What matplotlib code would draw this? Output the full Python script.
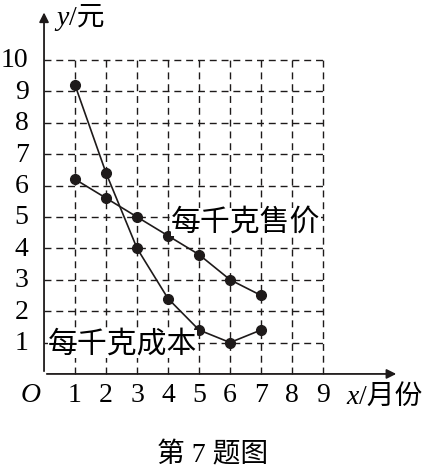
import numpy as np
import matplotlib.pyplot as plt

# months and prices (yuan per kg)
months = [1, 2, 3, 4, 5, 6, 7]
price = [6.2, 5.6, 5.0, 4.4, 3.8, 3.0, 2.5]   # 每千克售价
cost = [9.2, 6.4, 4.0, 2.4, 1.4, 1.0, 1.4]    # 每千克成本
xticks = [1, 2, 3, 4, 5, 6, 7, 8, 9]
yticks = [1, 2, 3, 4, 5, 6, 7, 8, 9, 10]

serif = "Liberation Serif"
cjk = ["Liberation Serif", "Noto Sans CJK SC"]
ink = "#1e1a1a"

fig = plt.figure(figsize=(4.26, 4.77), dpi=100)
ax = fig.add_axes([0, 0, 1, 1])
ax.set_xlim(-1.42, 12.32)
ax.set_ylim(-3.25, 11.94)
ax.axis("off")

# dashed grid
for x in xticks:
    ax.plot([x, x], [0, 10], color=ink, lw=1.0, ls=(0, (5, 3.5)))
for y in yticks:
    ax.plot([0, 9], [y, y], color=ink, lw=1.0, ls=(0, (5, 3.5)))

# axes with arrows
ax.annotate("", xy=(11.45, 0), xytext=(0, 0),
            arrowprops=dict(arrowstyle="-|>", color=ink, lw=1.3, mutation_scale=14))
ax.annotate("", xy=(0, 11.6), xytext=(0, 0),
            arrowprops=dict(arrowstyle="-|>", color=ink, lw=1.3, mutation_scale=14))

# the two series
ax.plot(months, price, "-o", color=ink, lw=1.2, ms=7)
ax.plot(months, cost, "-o", color=ink, lw=1.2, ms=7)

# tick labels
for x in xticks:
    ax.text(x, -0.65, str(x), family=serif, fontsize=20, ha="center", va="center")
for y in yticks:
    ax.text(-0.5, y, str(y), family=serif, fontsize=20, ha="right", va="center")
ax.text(-0.1, -0.65, "O", family=serif, style="italic", fontsize=20, ha="right", va="center")

# axis names
ax.text(0.4, 11.35, "y", family=serif, style="italic", fontsize=20, ha="left", va="center")
ax.text(0.82, 11.35, "/元", family=cjk, fontsize=20, ha="left", va="center")
ax.text(9.75, -0.72, "x", family=serif, style="italic", fontsize=20, ha="left", va="center")
ax.text(10.15, -0.72, "/月份", family=cjk, fontsize=20, ha="left", va="center")

# series labels
ax.text(4.1, 4.85, "每千克售价", family=cjk, fontsize=21.5, ha="left", va="center",
        bbox=dict(facecolor="white", edgecolor="none", pad=0))
ax.text(0.12, 0.95, "每千克成本", family=cjk, fontsize=21.5, ha="left", va="center",
        bbox=dict(facecolor="white", edgecolor="none", pad=0))

# caption
fig.text(0.5, 1 - 455 / 477, "第 7 题图", family=cjk, fontsize=20, ha="center", va="center")

plt.savefig("out.png", dpi=100)
